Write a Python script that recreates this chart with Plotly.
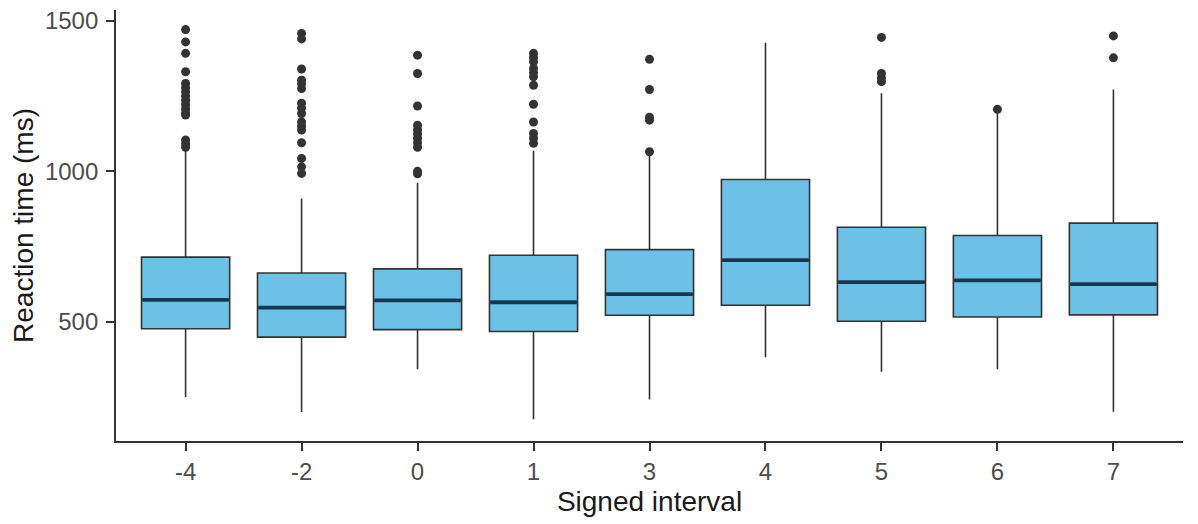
import plotly.graph_objects as go

categories = ["-4", "-2", "0", "1", "3", "4", "5", "6", "7"]
q1 = [477, 449, 474, 468, 522, 555, 502, 516, 523]
median = [573, 547, 571, 565, 592, 705, 632, 638, 625]
q3 = [715, 662, 676, 721, 740, 973, 814, 787, 828]
lower_whisker = [250, 200, 342, 176, 242, 382, 334, 342, 201]
upper_whisker = [1072, 910, 962, 1068, 1062, 1427, 1259, 1198, 1272]

outliers = {
    "-4": [1471, 1430, 1392, 1331, 1292, 1278, 1264, 1250, 1236, 1222, 1208, 1195, 1187,
           1104, 1092, 1080],
    "-2": [1458, 1440, 1340, 1303, 1290, 1275, 1226, 1210, 1192, 1164, 1150, 1137,
           1095, 1043, 1015, 993],
    "0": [1386, 1325, 1217, 1153, 1138, 1124, 1110, 1095, 1080, 1000, 992],
    "1": [1392, 1378, 1364, 1342, 1328, 1314, 1286, 1223, 1164, 1126, 1110, 1093],
    "3": [1372, 1272, 1180, 1170, 1065],
    "4": [],
    "5": [1445, 1325, 1310, 1298],
    "6": [1206],
    "7": [1450, 1377],
}

y_ticks = [500, 1000, 1500]

fill = "#6cc1e7"
edge = "#333333"
median_color = "#143850"

fig = go.Figure()

fig.add_trace(go.Box(
    x=categories, q1=q1, median=median, q3=q3,
    lowerfence=lower_whisker, upperfence=upper_whisker,
    boxpoints=False, width=0.76, whiskerwidth=0,
    fillcolor=fill, line=dict(color=edge, width=1.6),
    showlegend=False, hoverinfo="skip",
))

# thick median line drawn as a flat box on top
fig.add_trace(go.Box(
    x=categories, q1=median, median=median, q3=median,
    lowerfence=median, upperfence=median,
    boxpoints=False, width=0.745, whiskerwidth=0,
    fillcolor="rgba(0,0,0,0)", line=dict(color=median_color, width=3.8),
    showlegend=False, hoverinfo="skip",
))

ox, oy = [], []
for c in categories:
    for v in outliers[c]:
        ox.append(c)
        oy.append(v)

fig.add_trace(go.Scatter(
    x=ox, y=oy, mode="markers",
    marker=dict(color=edge, size=9, line=dict(width=0)),
    showlegend=False, hoverinfo="skip",
))

# the page body adds an 8px margin, so the figure is sized to fit the window
fig.update_layout(
    width=1190, height=516,
    margin=dict(l=108, r=15, t=2, b=83),
    paper_bgcolor="white", plot_bgcolor="white",
    font=dict(family="Liberation Sans, Arial, sans-serif"),
    boxmode="overlay",
)

fig.update_xaxes(
    type="category", categoryorder="array", categoryarray=categories,
    range=[-0.6, 8.6], automargin=False,
    showline=True, linecolor=edge, linewidth=1.8,
    ticks="outside", ticklen=8, tickwidth=1.6, tickcolor=edge,
    tickfont=dict(size=24, color="#4d4d4d"),
    showgrid=False, zeroline=False,
    title=dict(text="Signed interval", font=dict(size=28, color="#1a1a1a"), standoff=8),
)

fig.update_yaxes(
    range=[104, 1536], tickvals=y_ticks, ticktext=[str(v) for v in y_ticks],
    automargin=False, ticklabelstandoff=3, ticklabeloverflow="allow",
    showline=True, linecolor=edge, linewidth=1.8,
    ticks="outside", ticklen=8, tickwidth=1.6, tickcolor=edge,
    tickfont=dict(size=24, color="#4d4d4d"),
    showgrid=False, zeroline=False,
    title=dict(text="Reaction time (ms)", font=dict(size=28, color="#1a1a1a"), standoff=8),
)

fig.write_html("out.html")
